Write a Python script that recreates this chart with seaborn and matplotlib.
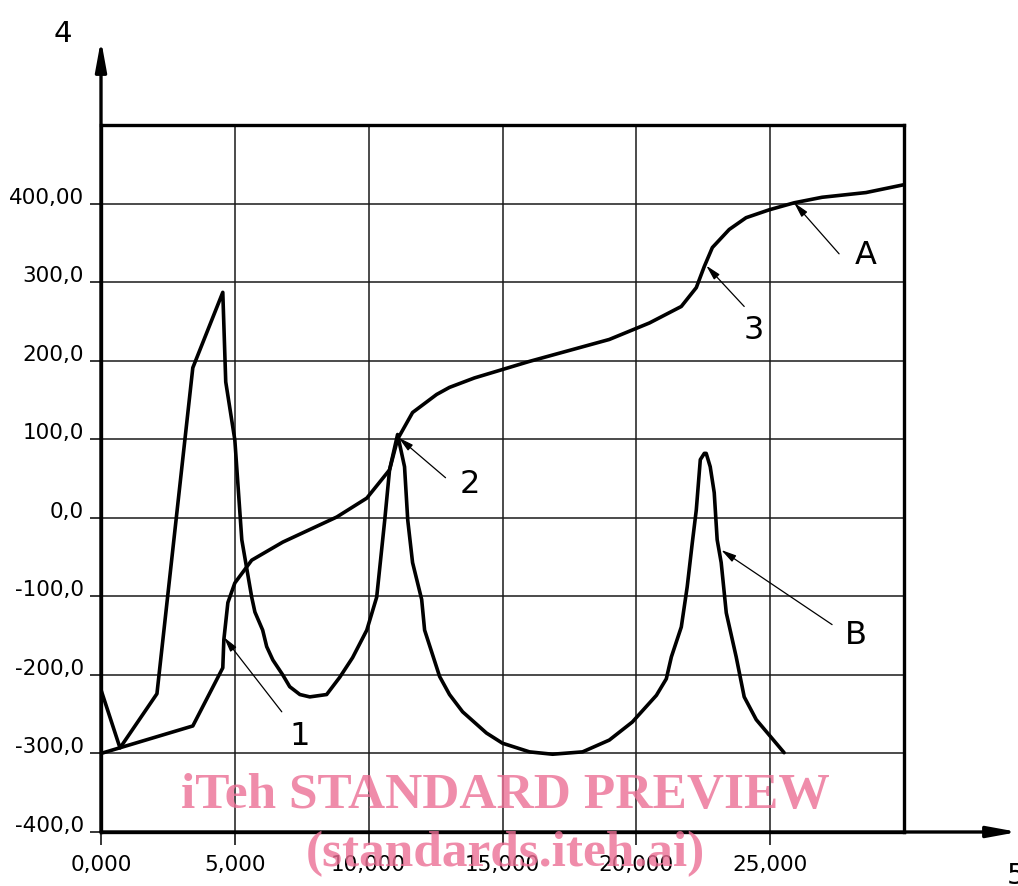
import matplotlib
matplotlib.use('Agg')
import matplotlib.pyplot as plt
import seaborn as sns
import pandas as pd

# curve through points 1, 2, 3 and A
a_x = [0, 3430, 4550, 4590, 4740, 5000, 5630, 6790, 8810, 9930, 10780, 11080,
       11640, 12540, 13020, 13950, 16000, 18990, 20490, 21680, 22240, 22540,
       22840, 23470, 24100, 24960, 25900, 26940, 28580, 30000]
a_y = [-300, -265, -191, -155, -108, -83, -54, -31, 1, 25, 61, 100,
       134, 157, 166, 178, 199, 227, 248, 269, 293, 320,
       344, 367, 382, 392, 401, 408, 414, 424]

# oscillating curve B
b_x = [0, 710, 2090, 3430, 4550, 4660, 5000, 5260, 5630, 5750, 6040, 6190,
       6420, 6790, 7050, 7430, 7800, 8430, 8920, 9400, 9930, 10300, 10600,
       10780, 11080, 11340, 11460, 11640, 11980, 12090, 12650, 13020, 13510,
       14400, 15000, 16010, 16870, 17990, 18990, 19850, 20750, 21120, 21310,
       21680, 21900, 22090, 22240, 22390, 22540, 22610, 22760, 22910, 23020,
       23170, 23360, 23730, 24030, 24480, 25520]
b_y = [-219, -293, -224, 191, 287, 173, 99, -28, -101, -120, -143, -164,
       -181, -200, -215, -225, -228, -225, -203, -178, -143, -101, -3,
       61, 106, 65, -3, -57, -104, -143, -202, -225, -247,
       -274, -287, -298, -301, -298, -283, -260, -226, -205, -177,
       -139, -88, -32, 10, 74, 82, 82, 65, 32, -28,
       -57, -121, -177, -228, -257, -299]

x_ticks = [0, 5000, 10000, 15000, 20000, 25000]
x_labels = ['0,000', '5,000', '10,000', '15,000', '20,000', '25,000']
y_ticks = [-400, -300, -200, -100, 0, 100, 200, 300, 400]
y_labels = ['-400,0', '-300,0', '-200,0', '-100,0', '0,0', '100,0',
            '200,0', '300,0', '400,00']

# callouts: label, text position, line start, arrow tip
call_names = ['1', '2', '3', 'A', 'B']
call_text = [(7425, -279), (13768, 42), (24403, 239), (28582, 334), (28209, -150)]
call_from = [(6754, -247), (12872, 51), (24030, 269), (27575, 336), (27313, -136)]
call_tip = [(4590, -152), (11119, 102), (22612, 321), (25896, 401), (23172, -41)]

sns.set_style('white')
plt.rcParams['font.family'] = ['DejaVu Sans']
plt.rcParams['text.color'] = 'black'
plt.rcParams['xtick.color'] = 'black'
plt.rcParams['ytick.color'] = 'black'

W, H = 1018, 886
fig = plt.figure(figsize=(W / 100, H / 100), dpi=100)
ax = fig.add_axes([101 / W, 54 / H, 803 / W, 707 / H])

curves = pd.concat([
    pd.DataFrame({'x': a_x, 'y': a_y, 'curve': 'A'}),
    pd.DataFrame({'x': b_x, 'y': b_y, 'curve': 'B'}),
])
sns.lineplot(data=curves, x='x', y='y', units='curve', estimator=None,
             sort=False, color='black', lw=2.6, ax=ax, legend=False)

ax.set_xlim(0, 30000)
ax.set_ylim(-400, 500)
ax.set_xlabel('')
ax.set_ylabel('')
ax.set_xticks(x_ticks)
ax.set_xticklabels(x_labels)
ax.set_yticks(y_ticks)
ax.set_yticklabels(y_labels)
for lab in ax.get_yticklabels():
    lab.set_verticalalignment('baseline')
ax.tick_params(axis='x', bottom=True, direction='out', length=9.5, width=1.1,
               pad=7, labelsize=15.5, colors='black')
ax.tick_params(axis='y', left=True, direction='out', length=8, width=1.1,
               pad=4.5, labelsize=15.5, colors='black')
ax.grid(True, color='#1a1a1a', lw=1.1)
ax.set_axisbelow(True)
for sp in ax.spines.values():
    sp.set_visible(True)
    sp.set_linewidth(2.4)
    sp.set_color('black')

# axis arrows
head = dict(arrowstyle='-|>,head_length=1.2,head_width=0.22', lw=2.4,
            color='black', shrinkA=0, shrinkB=0, mutation_scale=15)
ax.annotate('', xy=(101, H - 40), xytext=(101, 54), xycoords='figure pixels',
            textcoords='figure pixels', arrowprops=head)
ax.annotate('', xy=(1018, 54), xytext=(101, 54), xycoords='figure pixels',
            textcoords='figure pixels', arrowprops=head)
fig.text(63 / W, 1 - 34 / H, '4', fontsize=21, ha='center', va='center')
fig.text(1007 / W, 1 - 862 / H, '5', fontsize=21, ha='left', va='top')

# callouts
small = dict(arrowstyle='-|>,head_length=0.6,head_width=0.15', lw=0.9,
             color='black', shrinkA=0, shrinkB=0, mutation_scale=15)
for name, tp, fp, tip in zip(call_names, call_text, call_from, call_tip):
    ax.annotate('', xy=tip, xytext=fp, arrowprops=small)
    ax.text(tp[0], tp[1], name, fontsize=23, ha='center', va='center')

# watermark
pink = (236 / 255, 111 / 255, 149 / 255)
for txt, yp in [('iTeh STANDARD PREVIEW', 796), ('(standards.iteh.ai)', 854)]:
    fig.text(505 / W, 1 - yp / H, txt, family='Liberation Serif',
             weight='bold', fontsize=37, color=pink, alpha=0.8,
             ha='center', va='center')

fig.savefig('out.png', dpi=100)
